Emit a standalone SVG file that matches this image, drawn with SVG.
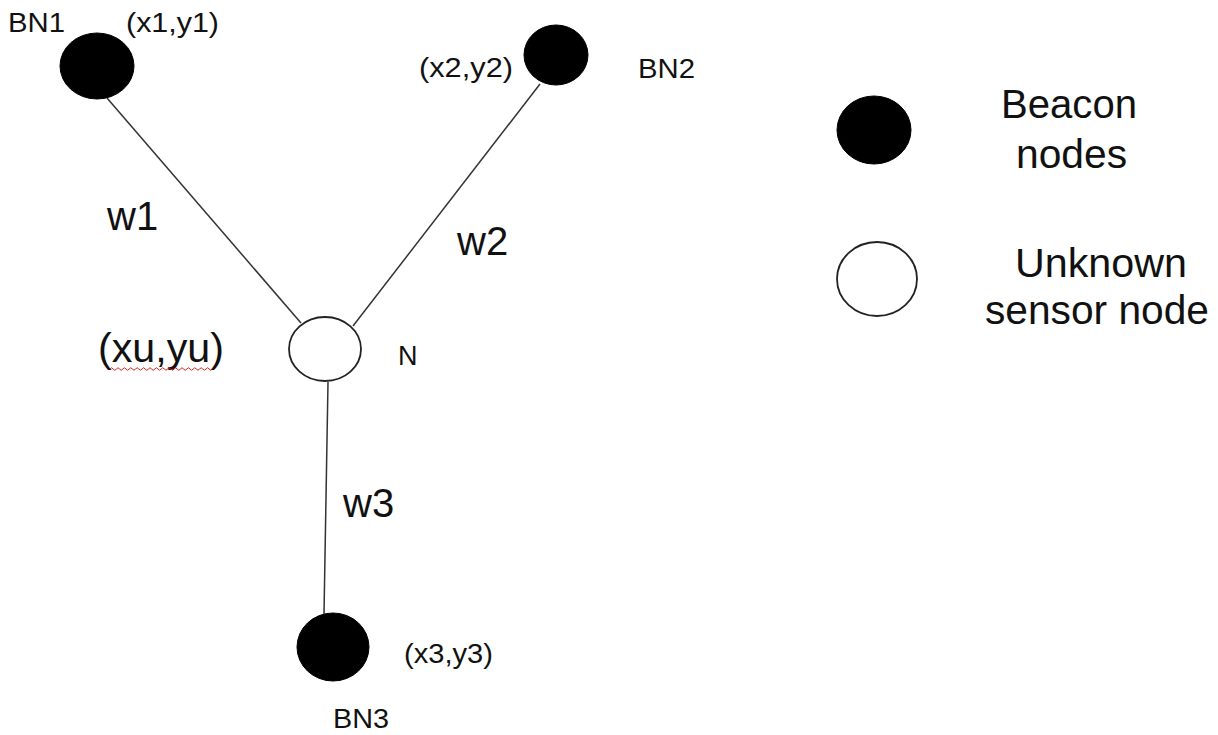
<svg xmlns="http://www.w3.org/2000/svg" width="1218" height="735" viewBox="0 0 1218 735">
<style>
.lbl{font-family:"Liberation Sans",Arial,sans-serif;fill:#111;}
.s{font-size:27px;}
.b{font-size:40px;}
.beacon{fill:#000;stroke:#000;stroke-width:1;}
.unk{fill:#fff;stroke:#222;stroke-width:1.8;}
.conn{stroke:#333;stroke-width:1.5;fill:none;}
</style>
<rect width="1218" height="735" fill="#fff"/>
<g id="connectors">
<line class="conn" x1="107" y1="98" x2="301" y2="323"/>
<line class="conn" x1="540" y1="84" x2="353" y2="326"/>
<line class="conn" x1="328" y1="382" x2="324" y2="614"/>
</g>
<g id="BN1">
<ellipse class="beacon" cx="97" cy="66" rx="37" ry="33"/>
<text class="lbl s" x="8" y="32" textLength="57" lengthAdjust="spacingAndGlyphs">BN1</text>
<text class="lbl s" x="126" y="32" textLength="93" lengthAdjust="spacingAndGlyphs">(x1,y1)</text>
</g>
<g id="BN2">
<ellipse class="beacon" cx="556" cy="55" rx="32" ry="30"/>
<text class="lbl s" x="419" y="77" textLength="94" lengthAdjust="spacingAndGlyphs">(x2,y2)</text>
<text class="lbl s" x="638" y="78" textLength="57" lengthAdjust="spacingAndGlyphs">BN2</text>
</g>
<g id="N">
<ellipse class="unk" cx="325" cy="349" rx="36" ry="32"/>
<text class="lbl s" x="398" y="365">N</text>
<text class="lbl b" x="98" y="362" textLength="126" lengthAdjust="spacingAndGlyphs">(xu,yu)</text>
<path d="M110 369 q1.6 -2.5 3.2 0 t3.2 0 t3.2 0 t3.2 0 t3.2 0 t3.2 0 t3.2 0 t3.2 0 t3.2 0 t3.2 0 t3.2 0 t3.2 0 t3.2 0 t3.2 0 t3.2 0 t3.2 0 t3.2 0 t3.2 0 t3.2 0 t3.2 0 t3.2 0 t3.2 0 t3.2 0 t3.2 0 t3.2 0 t3.2 0 t3.2 0 t3.2 0 t3.2 0 t3.2 0 t3.2 0 t3.2 0" fill="none" stroke="#e02020" stroke-width="1"/>
</g>
<g id="BN3">
<ellipse class="beacon" cx="333" cy="647" rx="36" ry="34"/>
<text class="lbl s" x="404" y="663" textLength="89" lengthAdjust="spacingAndGlyphs">(x3,y3)</text>
<text class="lbl s" x="333" y="728" textLength="56" lengthAdjust="spacingAndGlyphs">BN3</text>
</g>
<g id="edge-labels">
<text class="lbl b" x="107" y="230">w1</text>
<text class="lbl b" x="457" y="255">w2</text>
<text class="lbl b" x="343" y="517">w3</text>
</g>
<g id="legend-beacon">
<ellipse class="beacon" cx="874" cy="130" rx="37" ry="34"/>
<text class="lbl b" x="1001" y="118" textLength="136" lengthAdjust="spacingAndGlyphs">Beacon</text>
<text class="lbl b" x="1016" y="168" textLength="111" lengthAdjust="spacingAndGlyphs">nodes</text>
</g>
<g id="legend-unknown">
<ellipse class="unk" cx="877" cy="279" rx="40" ry="37"/>
<text class="lbl b" x="1015" y="277" textLength="172" lengthAdjust="spacingAndGlyphs">Unknown</text>
<text class="lbl b" x="985" y="324" textLength="224" lengthAdjust="spacingAndGlyphs">sensor node</text>
</g>
</svg>
